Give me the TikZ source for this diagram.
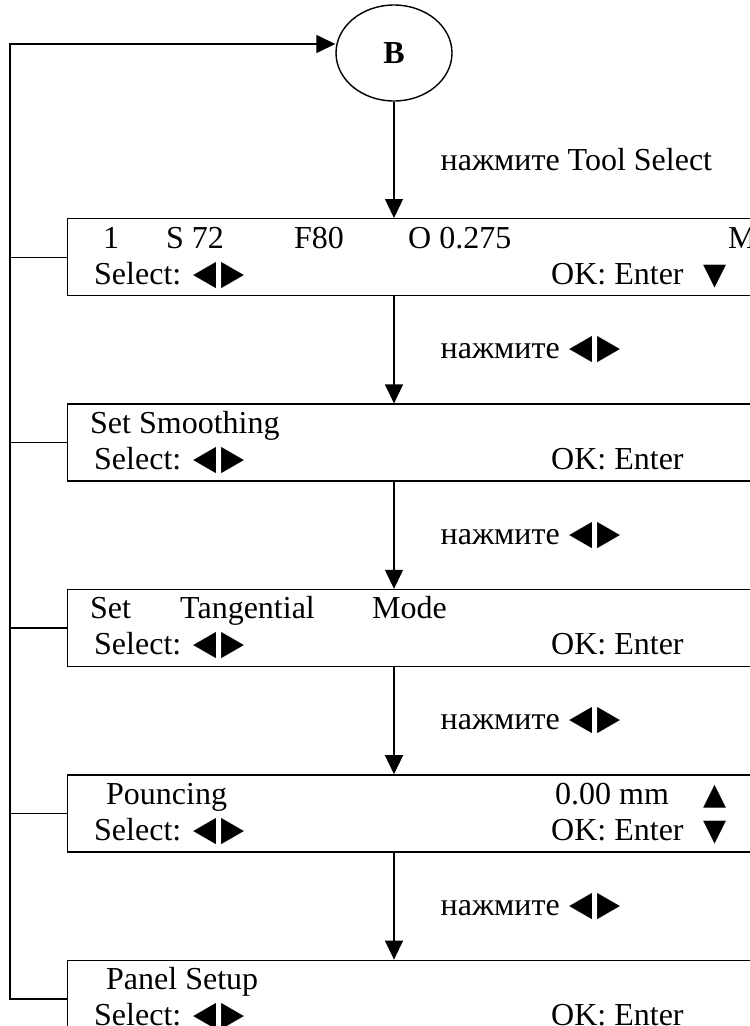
\documentclass[tikz,border=0pt]{standalone}
\usepackage{graphicx}
\usepackage{fontspec}
\setmainfont{Liberation Serif}
\newfontfamily\symfont{DejaVu Sans}
\usetikzlibrary{shapes.geometric, arrows.meta, positioning}

\newcommand{\keylr}{{\symfont\fontsize{30}{30}\selectfont\scalebox{1}[1.15]{◀}\kern5pt\scalebox{1}[1.15]{▶}}}
\newcommand{\keydn}{{\symfont\fontsize{30}{30}\selectfont ▼}}
\newcommand{\keyup}{{\symfont\fontsize{30}{30}\selectfont ▲}}

\begin{document}
\begin{tikzpicture}[x=1pt, y=-1pt, >={Triangle[length=19pt,width=18pt]},
    every node/.style={font=\fontsize{32}{38}\selectfont},
    lcd/.style={draw, rectangle, line width=1.4pt, minimum width=740pt, minimum height=77pt, inner sep=0pt},
    txt/.style={anchor=base west, inner sep=0pt},
    flow/.style={->, line width=1.4pt},
    hint/.style={midway, anchor=west, inner sep=0pt, xshift=46pt}]
      \clip (0,0) rectangle (750,1026);

      % Start point
      \node [draw, ellipse, line width=1.4pt, minimum width=116pt, minimum height=96pt, inner sep=0pt] (B) at (394,53) {\textbf{B}};

      % Display screens
      \node [lcd, anchor=north west] (p1) at (67,218) {};
      \node [lcd, below=107pt of p1] (p2) {};
      \node [lcd, below=107pt of p2] (p3) {};
      \node [lcd, below=107pt of p3] (p4) {};
      \node [lcd, below=107pt of p4] (p5) {};
      \coordinate (ret) at (10,44);

      % First lines
      \node [txt] at ([shift={(36,30)}]p1.north west) {1};
      \node [txt] at ([shift={(99,30)}]p1.north west) {S 72};
      \node [txt] at ([shift={(227,30)}]p1.north west) {F80};
      \node [txt] at ([shift={(341,30)}]p1.north west) {O 0.275};
      \node [txt] at ([shift={(661,30)}]p1.north west) {M};
      \node [txt] at ([shift={(23,30)}]p2.north west) {Set Smoothing};
      \node [txt] at ([shift={(23,30)}]p3.north west) {Set};
      \node [txt] at ([shift={(113,30)}]p3.north west) {Tangential};
      \node [txt] at ([shift={(305,30)}]p3.north west) {Mode};
      \node [txt] at ([shift={(39,30)}]p4.north west) {Pouncing};
      \node [txt] at ([shift={(488,30)}]p4.north west) {0.00 mm};
      \node [txt] at ([shift={(636,30)}]p4.north west) {\keyup};
      \node [txt] at ([shift={(39,30)}]p5.north west) {Panel Setup};

      % Second lines
      \foreach \p in {p1,p2,p3,p4,p5} {
        \node [txt] at ([shift={(27,66)}]\p.north west) {Select:\hspace{12pt}\keylr};
        \node [txt] at ([shift={(484,66)}]\p.north west) {OK: Enter};
      }
      \node [txt] at ([shift={(636,66)}]p1.north west) {\keydn};
      \node [txt] at ([shift={(636,66)}]p4.north west) {\keydn};

      % Arrows
      \draw [flow] (B) -- (B |- p1.north) node [hint] {нажмите Tool Select};
      \draw [flow] (B |- p1.south) -- (B |- p2.north) node [hint] {нажмите\hspace{10pt}\keylr};
      \draw [flow] (B |- p2.south) -- (B |- p3.north) node [hint] {нажмите\hspace{10pt}\keylr};
      \draw [flow] (B |- p3.south) -- (B |- p4.north) node [hint] {нажмите\hspace{10pt}\keylr};
      \draw [flow] (B |- p4.south) -- (B |- p5.north) node [hint] {нажмите\hspace{10pt}\keylr};

      % Return line
      \draw [flow] (p5.west) -| (ret) -- (B.west |- ret);
      \foreach \p in {p1,p2,p3,p4}
        \draw [line width=1.4pt] (\p.west) -- (\p.west -| ret);
\end{tikzpicture}
\end{document}
